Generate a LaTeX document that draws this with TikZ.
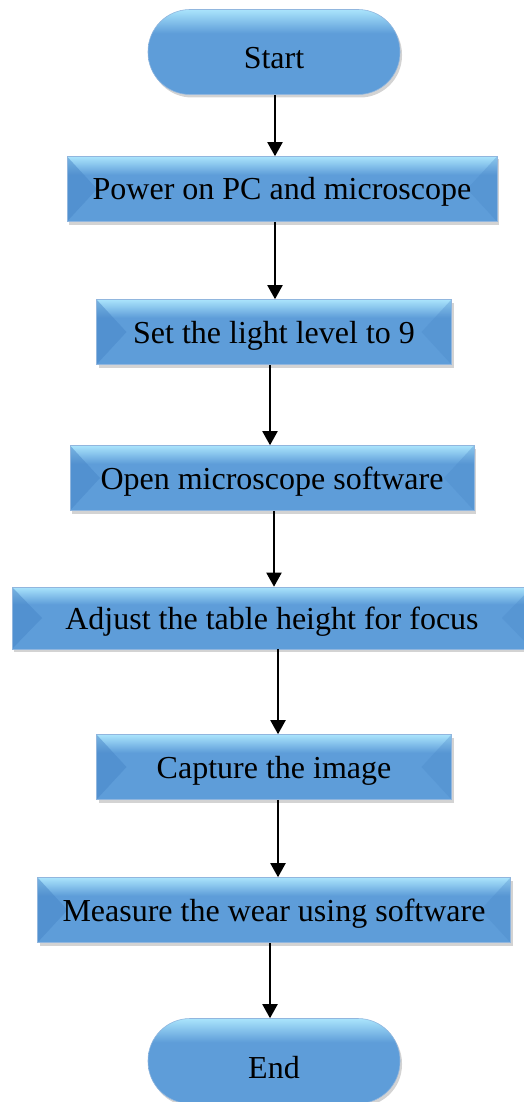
\documentclass[tikz,border=0pt]{standalone}
\usepackage{fontspec}
\setmainfont{Liberation Serif}
\usetikzlibrary{arrows.meta,shadows}
\definecolor{bevtop}{RGB}{170,228,252}
\definecolor{bevmid}{RGB}{94,157,217}
\definecolor{bevside}{RGB}{72,134,200}
\pgfdeclareverticalshading{bevshade}{100bp}{color(0bp)=(bevmid); color(25bp)=(bevmid); color(61bp)=(bevmid); color(75bp)=(bevtop); color(100bp)=(bevtop)}

\begin{document}
\begin{tikzpicture}[x=1pt,y=1pt,
  font=\fontsize{32}{36}\selectfont,
  bluefill/.style={shading=bevshade,draw=bevside!60,line width=.6pt,
    drop shadow={opacity=.35,shadow xshift=2pt,shadow yshift=-3pt}},
  term/.style={bluefill,rounded corners=42pt,minimum width=252pt,minimum height=85pt,
    text height=34pt,text depth=0pt},
  stepbox/.style={bluefill,minimum height=65pt,inner sep=0pt,text height=30pt,text depth=8pt,
    path picture={
      \fill[bevside,opacity=.5] (path picture bounding box.north west) -- ([xshift=30pt]path picture bounding box.west) -- (path picture bounding box.south west) -- cycle;
      \fill[bevside,opacity=.3] (path picture bounding box.north east) -- ([xshift=-30pt]path picture bounding box.east) -- (path picture bounding box.south east) -- cycle;
    }},
  arr/.style={-{Triangle[length=14pt,width=15pt]},line width=2pt}]
\useasboundingbox (0,0) rectangle (523,-1102);
\node[term] (start) at (274,-52) {Start};
\node[stepbox,minimum width=430pt] (power) at (282,-189) {Power on PC and microscope};
\node[stepbox,minimum width=355pt] (light) at (274,-332) {Set the light level to 9};
\node[stepbox,minimum width=404pt] (soft) at (272,-478) {Open microscope software};
\node[stepbox,minimum width=520pt,minimum height=62pt] (focus) at (272,-618) {Adjust the table height for focus};
\node[stepbox,minimum width=355pt] (capture) at (274,-767) {Capture the image};
\node[stepbox,minimum width=473pt] (measure) at (274,-910) {Measure the wear using software};
\node[term] (end) at (274,-1061) {End};
% connectors
\foreach \a/\b/\d in {start/power/1,power/light/-7,light/soft/-4,soft/focus/2,focus/capture/6,capture/measure/4,measure/end/-4}
  \draw[arr] ([xshift=\d pt]\a.south) -- ([xshift=\d pt]\a.south |- \b.north);
\end{tikzpicture}
\end{document}
